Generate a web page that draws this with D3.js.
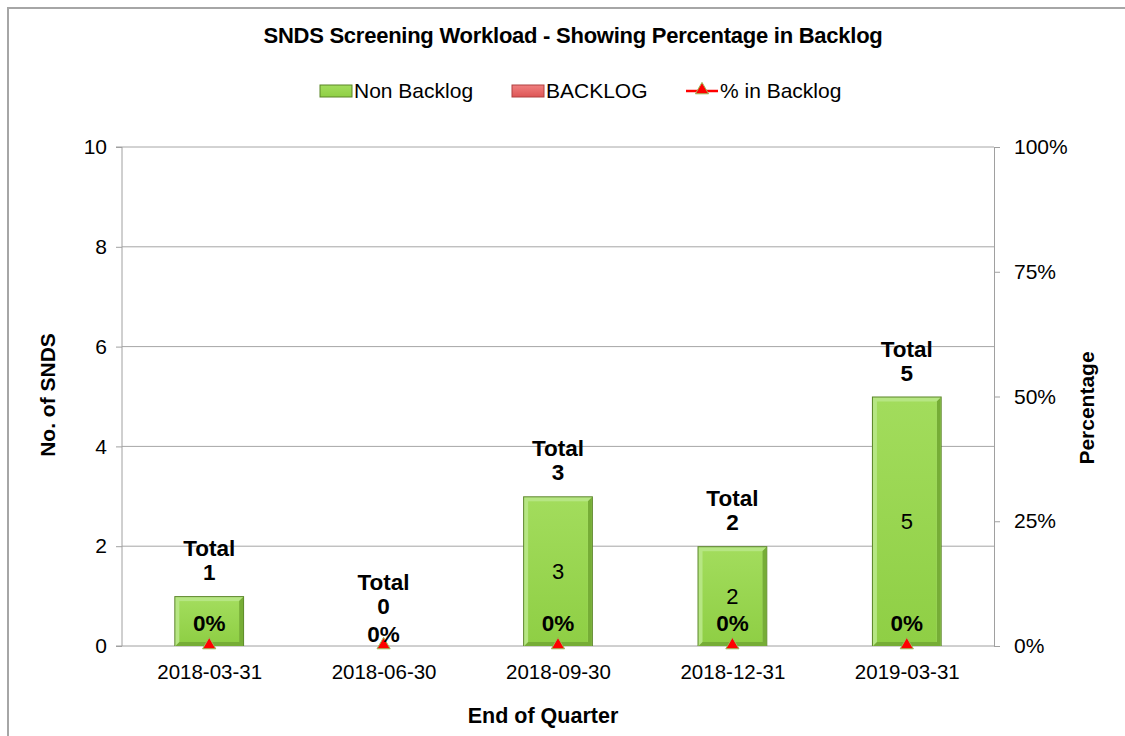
<!DOCTYPE html>
<html>
<head>
<meta charset="utf-8">
<script src="https://cdn.jsdelivr.net/npm/d3@7"></script>
<style>
	body{margin:0;background:#fff;font-family:"Liberation Sans",Arial,sans-serif}
	.axis path,.axis line{stroke:#a0a0a0}
	.axis text{font-family:"Liberation Sans",Arial,sans-serif;fill:#000}
</style>
</head>
<body>
<div id="chart"></div>
<script>
// chart data
var quarters = ["2018-03-31","2018-06-30","2018-09-30","2018-12-31","2019-03-31"]
var nonBacklog = [1,0,3,2,5]
var backlog = [0,0,0,0,0]
var pctBacklog = [0,0,0,0,0]
var leftTicks = [0,2,4,6,8,10]
var rightTicks = [0,0.25,0.5,0.75,1]

var W = 1125, H = 736
var margin = {top:147, right:131, bottom:90, left:122}
var width = W - margin.left - margin.right
var height = H - margin.top - margin.bottom

var svg = d3.select("#chart").append("svg")
	.attr("width",W).attr("height",H)

// outer chart border
svg.append("rect")
	.attr("x",8).attr("y",8).attr("width",W+20).attr("height",H+20)
	.attr("fill","none").attr("stroke","#a6a6a6").attr("stroke-width",2)

var defs = svg.append("defs")
var grad = defs.append("linearGradient").attr("id","greenFill").attr("x1",0).attr("x2",0).attr("y1",0).attr("y2",1)
grad.append("stop").attr("offset","0%").attr("stop-color","#a2dc5c")
grad.append("stop").attr("offset","100%").attr("stop-color","#8fcf45")
var gradR = defs.append("linearGradient").attr("id","redFill").attr("x1",0).attr("x2",0).attr("y1",0).attr("y2",1)
gradR.append("stop").attr("offset","0%").attr("stop-color","#f08080")
gradR.append("stop").attr("offset","100%").attr("stop-color","#dd5555")

var g = svg.append("g").attr("transform",`translate(${margin.left},${margin.top})`)

var x = d3.scaleBand().domain(quarters).range([0,width]).paddingInner(0.6).paddingOuter(0.3)
var xc = d3.scalePoint().domain(quarters).range([0,width]).padding(0.5)
var y = d3.scaleLinear().domain([0,10]).range([height,0])
var y2 = d3.scaleLinear().domain([0,1]).range([height,0])

// gridlines
g.append("g").selectAll("line").data(leftTicks.slice(1)).join("line")
	.attr("x1",0).attr("x2",width)
	.attr("y1",d=>y(d)).attr("y2",d=>y(d))
	.attr("stroke","#a6a6a6").attr("stroke-width",1)

// axes
var yAxis = g.append("g").attr("class","axis")
	.call(d3.axisLeft(y).tickValues(leftTicks).tickSize(6).tickPadding(9))
yAxis.selectAll("text").style("font-size","21px")

var yAxis2 = g.append("g").attr("class","axis").attr("transform",`translate(${width},0)`)
	.call(d3.axisRight(y2).tickValues(rightTicks).tickSize(6).tickPadding(14).tickFormat(d3.format(".0%")))
yAxis2.selectAll("text").style("font-size","21px")

var xAxis = g.append("g").attr("class","axis").attr("transform",`translate(0,${height})`)
	.call(d3.axisBottom(xc).tickSize(0).tickPadding(18))
xAxis.selectAll("text").style("font-size","20.5px")
xAxis.select(".domain").remove()
g.append("line").attr("x1",0).attr("x2",width).attr("y1",height).attr("y2",height).attr("stroke","#a0a0a0")
yAxis.select(".domain").attr("d",`M-6,0H0V${height}H-6`)

// bars with bevelled look
var bw = x.bandwidth()
var bars = g.append("g").selectAll("g").data(quarters.map((q,i)=>({q:q,v:nonBacklog[i],b:backlog[i]}))).join("g")
	.filter(d=>d.v>0)
bars.append("rect")
	.attr("x",d=>x(d.q)).attr("y",d=>y(d.v))
	.attr("width",bw).attr("height",d=>height-y(d.v))
	.attr("fill","#5a8526")
bars.append("rect")
	.attr("x",d=>x(d.q)+1).attr("y",d=>y(d.v)+1)
	.attr("width",bw-2).attr("height",d=>height-y(d.v)-1)
	.attr("fill","#b6e683")
bars.append("path")
	.attr("d",d=>{
		let x0=x(d.q)+1, x1=x(d.q)+bw-1, y0=y(d.v)+1, y1=height, e=4
		return `M${x1},${y0}L${x1},${y1}L${x0},${y1}L${x0+e},${y1-e}L${x1-e},${y1-e}L${x1-e},${y0+e}Z`
	})
	.attr("fill","#76ad36")
bars.append("rect")
	.attr("x",d=>x(d.q)+5).attr("y",d=>y(d.v)+5)
	.attr("width",bw-10).attr("height",d=>height-y(d.v)-9)
	.attr("fill","url(#greenFill)")

// value labels in the middle of bars
bars.filter(d=>d.v>1).append("text")
	.attr("x",d=>x(d.q)+bw/2).attr("y",d=>y(d.v/2))
	.attr("dy","0.35em").attr("text-anchor","middle")
	.style("font-size","22px").text(d=>d.v)

// total labels
var totals = g.append("g").selectAll("text").data(quarters.map((q,i)=>({q:q,t:nonBacklog[i]+backlog[i]}))).join("text")
	.attr("text-anchor","middle").style("font-size","22.5px").style("font-weight","bold")
	.attr("dominant-baseline","middle")
	.attr("y",d=>Math.min(y(d.t)-22, height-38))
totals.append("tspan").attr("x",d=>xc(d.q)).attr("dy",-24).text("Total")
totals.append("tspan").attr("x",d=>xc(d.q)).attr("dy",24).text(d=>d.t)

// percentage markers (line itself not visible in the original)
var tri = d3.symbol().type(d3.symbolTriangle).size(75)
g.append("g").selectAll("path").data(pctBacklog).join("path")
	.attr("d",tri)
	.attr("transform",(d,i)=>`translate(${xc(quarters[i])},${y2(d)-1})`)
	.attr("fill","#ff0000").attr("stroke","#9bbb59").attr("stroke-width",1)

g.append("g").selectAll("text").data(pctBacklog).join("text")
	.attr("x",(d,i)=>xc(quarters[i]))
	.attr("y",(d,i)=>y2(d)-(nonBacklog[i]>0?23:12))
	.attr("dy","0.35em").attr("text-anchor","middle")
	.style("font-size","22.5px").style("font-weight","bold")
	.text(d=>d3.format(".0%")(d))

// titles
svg.append("text").attr("x",573).attr("y",35).attr("dy","0.35em").attr("text-anchor","middle")
	.style("font-size","22px").style("font-weight","bold").style("letter-spacing","-0.25px")
	.text("SNDS Screening Workload - Showing Percentage in Backlog")

svg.append("text").attr("transform","translate(48,395) rotate(-90)").attr("dy","0.35em")
	.attr("text-anchor","middle").style("font-size","21px").style("font-weight","bold")
	.text("No. of SNDS")
svg.append("text").attr("transform","translate(1087,408) rotate(-90)").attr("dy","0.35em")
	.attr("text-anchor","middle").style("font-size","21px").style("font-weight","bold")
	.text("Percentage")
svg.append("text").attr("x",543).attr("y",715).attr("dy","0.35em")
	.attr("text-anchor","middle").style("font-size","21.5px").style("font-weight","bold")
	.text("End of Quarter")

// legend
var legendItems = [
	{name:"Non Backlog", x:320, type:"bar", fill:"url(#greenFill)", edge:"#5a8526"},
	{name:"BACKLOG", x:512, type:"bar", fill:"url(#redFill)", edge:"#b04040"},
	{name:"% in Backlog", x:686, type:"line"}
]
var legend = svg.append("g").selectAll("g").data(legendItems).join("g")
	.attr("transform",d=>`translate(${d.x},91)`)
legend.filter(d=>d.type=="bar").append("rect")
	.attr("x",0).attr("y",-6).attr("width",32).attr("height",12)
	.attr("fill",d=>d.fill).attr("stroke",d=>d.edge).attr("stroke-width",1)
legend.filter(d=>d.type=="line").append("line")
	.attr("x1",0).attr("x2",32).attr("y1",0).attr("y2",0)
	.attr("stroke","#ff0000").attr("stroke-width",2.5)
legend.filter(d=>d.type=="line").append("path")
	.attr("d",tri).attr("transform","translate(16,-1)")
	.attr("fill","#ff0000").attr("stroke","#9bbb59")
legend.append("text").attr("x",34).attr("dy","0.35em")
	.style("font-size","21px").text(d=>d.name)
</script>
</body>
</html>
